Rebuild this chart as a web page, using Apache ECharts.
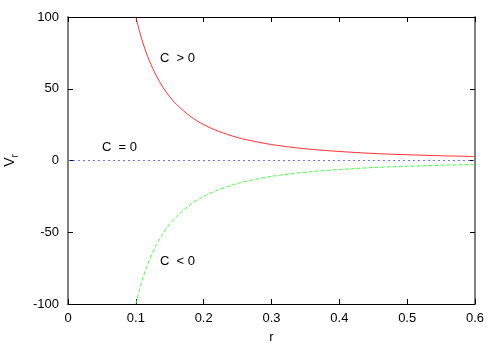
<!DOCTYPE html>
<html>
<head>
<meta charset="utf-8">
<script src="https://cdn.jsdelivr.net/npm/echarts@6/dist/echarts.min.js"></script>
<style>
  html, body { margin: 0; padding: 0; background: #fff; }
  #chart { width: 500px; height: 350px; }
</style>
</head>
<body>
<div id="chart"></div>
<script>
// values
const rValues = [0.1, 0.105, 0.11, 0.115, 0.12, 0.13, 0.14, 0.15, 0.16, 0.18, 0.2, 0.22, 0.25, 0.28, 0.3, 0.33, 0.36, 0.4, 0.45, 0.5, 0.55, 0.6];
const vPositive = [100, 90.7, 82.6, 75.6, 69.4, 59.2, 51.0, 44.4, 39.1, 30.9, 25.0, 20.7, 16.0, 12.8, 11.1, 9.2, 7.7, 6.3, 4.9, 4.0, 3.3, 2.8];
const vNegative = [-100, -90.7, -82.6, -75.6, -69.4, -59.2, -51.0, -44.4, -39.1, -30.9, -25.0, -20.7, -16.0, -12.8, -11.1, -9.2, -7.7, -6.3, -4.9, -4.0, -3.3, -2.8];
const zeroR = [0, 0.6];
const zeroV = [0, 0];
const xTicks = [0, 0.1, 0.2, 0.3, 0.4, 0.5, 0.6];
const yTicks = [-100, -50, 0, 50, 100];

const font = 'Liberation Sans, Arial, sans-serif';
const chart = echarts.init(document.getElementById('chart'));

const pairs = (xs, ys) => xs.map((x, i) => [x, ys[i]]);

const tickStyle = { show: true, inside: true, length: 5, lineStyle: { color: '#000', width: 1 } };

chart.setOption({
  animation: false,
  backgroundColor: '#fff',
  grid: { left: 68, right: 25, top: 17, bottom: 46, outerBoundsMode: 'none' },
  xAxis: [
    {
      type: 'value', min: 0, max: 0.6, interval: 0.1, position: 'bottom',
      name: 'r', nameLocation: 'middle', nameGap: 27,
      nameTextStyle: { color: '#000', fontSize: 13, fontFamily: font },
      axisLine: { onZero: false, lineStyle: { color: '#000', width: 1 } },
      axisTick: tickStyle,
      axisLabel: { color: '#000', fontSize: 13, fontFamily: font, margin: 8,
        formatter: v => xTicks.includes(Math.round(v * 10) / 10) ? String(Math.round(v * 10) / 10) : '' },
      splitLine: { show: false }
    },
    {
      type: 'value', min: 0, max: 0.6, interval: 0.1, position: 'top',
      axisLine: { onZero: false, lineStyle: { color: '#000', width: 1 } },
      axisTick: tickStyle,
      axisLabel: { show: false },
      splitLine: { show: false }
    }
  ],
  yAxis: [
    {
      type: 'value', min: -100, max: 100, interval: 50, position: 'left',
      name: '{v|V}{s|r}', nameLocation: 'middle', nameGap: 48, nameRotate: 90,
      nameTextStyle: {
        rich: {
          v: { color: '#000', fontSize: 14, fontFamily: font },
          s: { color: '#000', fontSize: 10, fontFamily: font, padding: [10, 0, 0, 0] }
        }
      },
      axisLine: { onZero: false, lineStyle: { color: '#808080', width: 2 } },
      axisTick: tickStyle,
      axisLabel: { color: '#000', fontSize: 13, fontFamily: font, margin: 9,
        formatter: v => yTicks.includes(v) ? String(v) : '' },
      splitLine: { show: false }
    },
    {
      type: 'value', min: -100, max: 100, interval: 50, position: 'right',
      axisLine: { onZero: false, lineStyle: { color: '#808080', width: 2 } },
      axisTick: tickStyle,
      axisLabel: { show: false },
      splitLine: { show: false }
    }
  ],
  graphic: [
    { type: 'text', left: 160, top: 52, style: { text: 'C  > 0', fill: '#000', font: '13px ' + font } },
    { type: 'text', left: 102, top: 141, style: { text: 'C  = 0', fill: '#000', font: '13px ' + font } },
    { type: 'text', left: 160, top: 255, style: { text: 'C  < 0', fill: '#000', font: '13px ' + font } }
  ],
  series: [
    {
      name: 'C > 0', type: 'line', smooth: 0.3, showSymbol: false,
      data: pairs(rValues, vPositive),
      lineStyle: { color: '#ff3030', width: 1 }
    },
    {
      name: 'C = 0', type: 'line', showSymbol: false,
      data: pairs(zeroR, zeroV),
      lineStyle: { color: '#7070ff', width: 1, type: [2, 3] }
    },
    {
      name: 'C < 0', type: 'line', smooth: 0.3, showSymbol: false,
      data: pairs(rValues, vNegative),
      lineStyle: { color: '#40ff40', width: 1, type: [4, 2] }
    }
  ]
});
</script>
</body>
</html>
